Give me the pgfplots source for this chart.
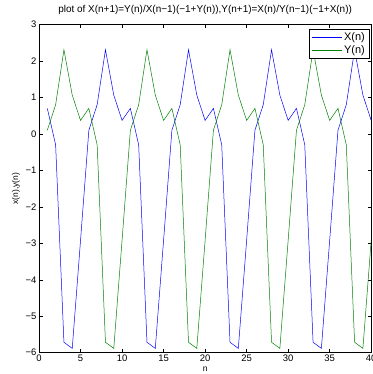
\documentclass[border=0pt]{standalone}
\usepackage{fontspec}
\setmainfont{Liberation Sans}
\usepackage{pgfplots}
\usepackage{pgfplotstable}
\pgfplotsset{compat=1.18}
\definecolor{mblue}{rgb}{0,0,1}
\definecolor{mgreen}{rgb}{0,0.5,0}
\pgfplotstableread{
n x y
1 0.7 0.1
2 -0.3 0.8
3 -5.714 2.308
4 -5.882 1.064
5 -2.917 0.370
6 0.1 0.7
7 0.8 -0.3
8 2.308 -5.714
9 1.064 -5.882
10 0.370 -2.917
11 0.7 0.1
12 -0.3 0.8
13 -5.714 2.308
14 -5.882 1.064
15 -2.917 0.370
16 0.1 0.7
17 0.8 -0.3
18 2.308 -5.714
19 1.064 -5.882
20 0.370 -2.917
21 0.7 0.1
22 -0.3 0.8
23 -5.714 2.308
24 -5.882 1.064
25 -2.917 0.370
26 0.1 0.7
27 0.8 -0.3
28 2.308 -5.714
29 1.064 -5.882
30 0.370 -2.917
31 0.7 0.1
32 -0.3 0.8
33 -5.714 2.308
34 -5.882 1.064
35 -2.917 0.370
36 0.1 0.7
37 0.8 -0.3
38 2.308 -5.714
39 1.064 -5.882
40 0.370 -2.917
}\data
\begin{document}
\begin{tikzpicture}
\begin{axis}[
  scale only axis, width=332bp, height=328bp,
  xmin=0, xmax=40, ymin=-6, ymax=3,
  xtick={0,5,...,40}, ytick={-6,-5,...,3},
  yticklabels={−6,−5,−4,−3,−2,−1,0,1,2,3},
  tick align=inside, major tick length=3.5bp,
  tick style={black, line width=0.5pt},
  axis line style={line width=0.6pt},
  ticklabel style={font=\fontsize{9.5}{10}\selectfont},
  yticklabel style={xshift=1bp},
  xticklabel style={yshift=1bp},
  /pgf/number format/assume math mode=true,
  title={plot of X(n+1)=Y(n)/X(n−1)(−1+Y(n)),Y(n+1)=X(n)/Y(n−1)(−1+X(n))},
  title style={font=\fontsize{10}{12}\selectfont, at={(rel axis cs:0.5,1)}, anchor=south, yshift=0.5bp},
  xlabel={n}, ylabel={x(n),y(n)},
  label style={font=\fontsize{8.5}{9}\selectfont},
  xlabel style={yshift=2bp},
  ylabel style={yshift=-1bp},
  legend style={at={(rel axis cs:0.995,0.985)}, anchor=north east,
    font=\fontsize{11}{12}\selectfont,
    inner xsep=2.5pt, inner ysep=1pt, row sep=-0.5pt},
  legend cell align=right,
  legend image code/.code={\draw[mark repeat=2,mark phase=2,#1] plot coordinates {(0bp,0bp) (15bp,0bp) (30bp,0bp)};},
]
\addplot[mblue, line width=0.5pt] table[x=n, y=x] {\data};
\addlegendentry{X(n)}
\addplot[mgreen, line width=0.5pt] table[x=n, y=y] {\data};
\addlegendentry{Y(n)}
\coordinate (sw) at (rel axis cs:0,0);
\coordinate (ne) at (rel axis cs:1,1);
\end{axis}
\pgfresetboundingbox
\path[use as bounding box] ([xshift=-39bp,yshift=-21.3bp]sw) rectangle ([xshift=1bp,yshift=24.5bp]ne);
\end{tikzpicture}
\end{document}
